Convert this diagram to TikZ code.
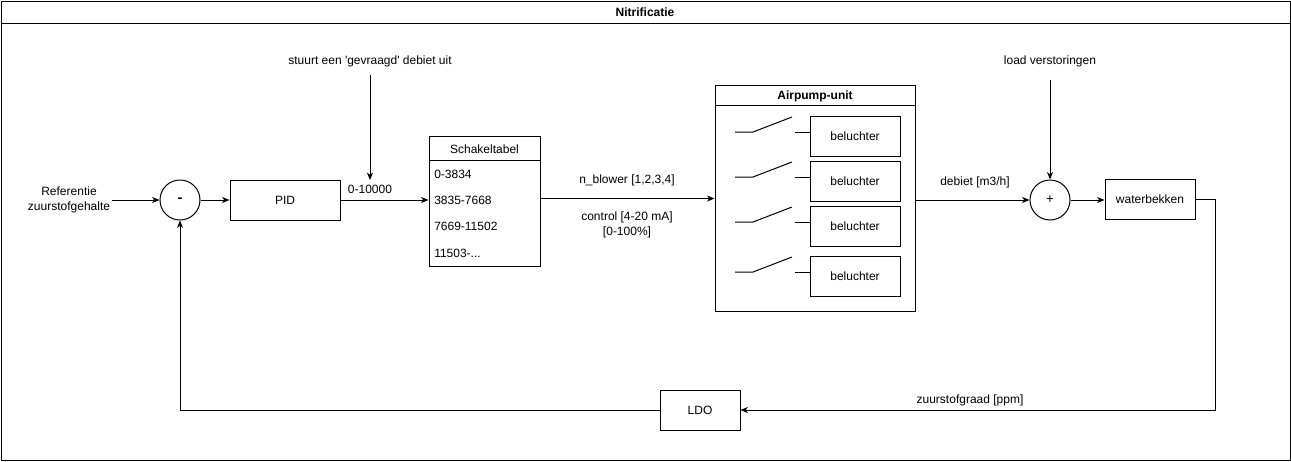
\documentclass[tikz,border=0pt]{standalone}
\usepackage{fontspec}
\setmainfont{Liberation Sans}
\usetikzlibrary{arrows.meta,calc}
\begin{document}
\begin{tikzpicture}[x=0.75pt,y=-0.75pt,
  every node/.style={font=\fontsize{9}{11}\selectfont},
  ln/.style={line width=0.75pt},
  arr/.style={ln,-{Stealth[length=5.5pt,width=4.5pt,inset=1.5pt]}},
  blk/.style={draw,line width=0.75pt,minimum width=67.5pt,minimum height=30pt,inner sep=0pt},
  sumc/.style={draw,circle,line width=0.75pt,minimum size=30pt,inner sep=0pt},
  lbl/.style={inner sep=1pt,align=center}]
\useasboundingbox (0,0) rectangle (1291,461);
% frame
\draw[ln] (1,1) rectangle (1290,460);
\draw[ln] (1,23) -- (1290,23);
\node[font=\fontsize{9}{11}\selectfont\bfseries] (title) at (645,12) {Nitrificatie};
% left part
\node[lbl] (ref) at (69,200) {Referentie\\zuurstofgehalte};
\node[sumc,font=\fontsize{11}{13}\selectfont\bfseries] (minus) at (180,200) {-};
\node[blk,minimum width=82.5pt] (pid) at (285,200) {PID};
\node[lbl] (stuurt) at (370,61) {stuurt een \textquotesingle gevraagd\textquotesingle{} debiet uit};
\coordinate (st0) at (370,75);
\coordinate (st1) at (370,180);
\node[lbl] (l10000) at (370,189) {0-10000};
% Schakeltabel
\node[draw,ln,minimum width=83.25pt,minimum height=97.5pt,inner sep=0pt] (sk) at (484.5,201) {};
\draw[ln] (429,160) -- (540,160);
\node (skh) at (484.5,149) {Schakeltabel};
\node[anchor=west,inner sep=0pt] (r1) at (434,174) {0-3834};
\node[anchor=west,inner sep=0pt] (r2) at (434,200) {3835-7668};
\node[anchor=west,inner sep=0pt] (r3) at (434,226) {7669-11502};
\node[anchor=west,inner sep=0pt] (r4) at (434,253) {11503-...};
% labels
\node[lbl] (nb) at (627,180) {n\_blower [1,2,3,4]};
\node[lbl] (ctl) at (627,225) {control [4-20 mA]\\{}[0-100\%]};
% Airpump unit
\node[draw,ln,minimum width=150pt,minimum height=169.5pt,inner sep=0pt] (ap) at (815,198.5) {};
\draw[ln] (715,105) -- (915,105);
\node[font=\fontsize{9}{11}\selectfont\bfseries] (aph) at (815,96) {Airpump-unit};
\foreach \i/\y/\t in {1/136.5/132, 2/181/177, 3/226/222, 4/276/272}{
  \node[blk] (b\i) at (855,\y) {beluchter};
  \draw[ln] (735,\t) -- (753,\t) -- (792,\t-15);
  \draw[ln] (795,\t) -- (810,\t);
}
% right part
\node[lbl] (deb) at (975,182) {debiet [m3/h]};
\node[sumc,font=\fontsize{10}{12}\selectfont] (plus) at (1050,200) {+};
\node[lbl] (lv) at (1050,61) {load verstoringen};
\coordinate (lv0) at (1050,80);
\node[blk] (wb) at (1150,199.5) {waterbekken};
\coordinate (c1) at (1215,410);
\node[blk,minimum width=60pt] (ldo) at (700,410) {LDO};
\node[lbl] (zg) at (970,400) {zuurstofgraad [ppm]};
% connectors
\draw[arr] (ref.east |- minus.west) -- (minus.west);
\draw[arr] (minus.east) -- (pid.west);
\draw[arr] (pid.east) -- (sk.west |- pid.east);
\draw[arr] (st0) -- (st1);
\draw[arr] (sk.east |- ap.west) -- (ap.west);
\draw[arr] (ap.east |- plus.west) -- (plus.west);
\draw[arr] (lv0) -- (plus.north);
\draw[arr] (plus.east) -- (wb.west |- plus.east);
\draw[arr] (wb.east) -| (c1) -- (ldo.east);
\draw[arr] (ldo.west) -| (minus.south);
\end{tikzpicture}
\end{document}
